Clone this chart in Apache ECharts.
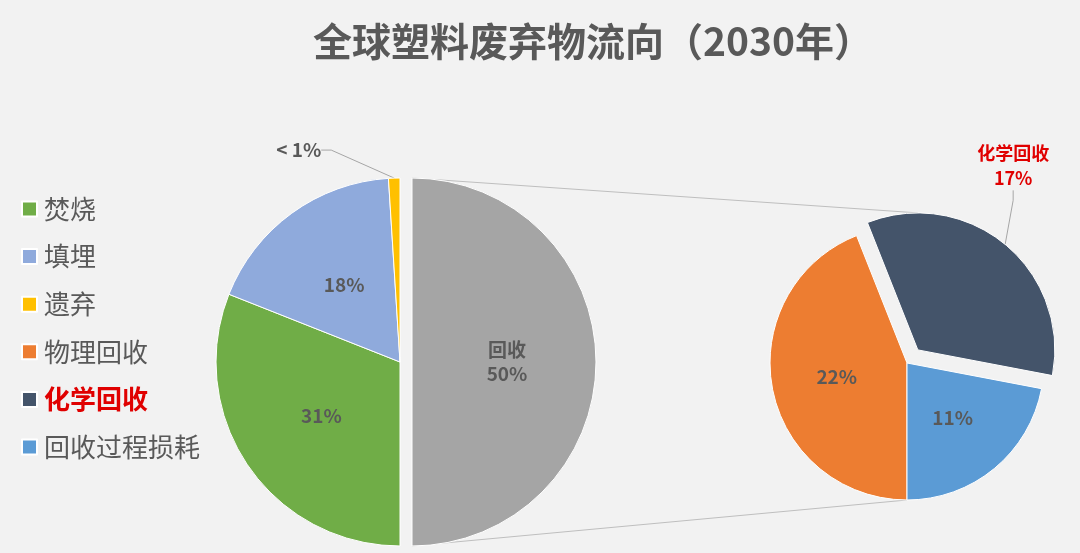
<!DOCTYPE html>
<html lang="zh">
<head>
    <meta charset="UTF-8">
    <title>全球塑料废弃物流向（2030年）</title>
    <style>
        html, body, #echarts {
            margin: 0;
            padding: 0;
            width: 100%;
            height: 100%;
            background: #f2f2f2;
        }
    </style>
</head>
<body>
    <div id="echarts"></div>
    <script src="https://cdn.jsdelivr.net/npm/echarts@6/dist/echarts.min.js"></script>
    <script>
        // 主饼图（总量）
        var mainNames = ['回收', '焚烧', '填埋', '遗弃'];
        var mainValues = [50, 31, 18, 1];
        var mainLabels = ['回收\n50%', '31%', '18%', '< 1%'];
        var mainColors = ['#a5a5a5', '#70ad47', '#8faadc', '#ffc000'];

        // 子饼图（回收拆分）
        var subNames = ['物理回收', '化学回收', '回收过程损耗'];
        var subValues = [22, 17, 11];
        var subLabels = ['22%', '化学回收\n17%', '11%'];
        var subColors = ['#ed7d31', '#44546a', '#5b9bd5'];

        var legendNames = ['焚烧', '填埋', '遗弃', '物理回收', '化学回收', '回收过程损耗'];

        // 布局
        var FONT = '"Noto Sans CJK SC", "Noto Sans", sans-serif';
        var mainCenter = [400, 362], mainR = 184, mainOffset = 12, mainStart = 90;
        var subCenter = [907, 363], subR = 137, subOffset = 17, subStart = -90;
        var HIGHLIGHT = '化学回收';

        function sum(arr) {
            var s = 0;
            for (var i = 0; i < arr.length; i++) s += arr[i];
            return s;
        }

        // 某一扇区的中线角度（度，逆时针为正，顺时针排布）
        function midAngle(values, start, idx) {
            var total = sum(values);
            var a = start;
            for (var i = 0; i < idx; i++) a -= values[i] / total * 360;
            return a - values[idx] / total * 180;
        }

        function offsetOf(values, start, idx, dist) {
            var rad = midAngle(values, start, idx) * Math.PI / 180;
            return [Math.cos(rad) * dist, -Math.sin(rad) * dist];
        }

        var hiIdx = subNames.indexOf(HIGHLIGHT);
        var mo = offsetOf(mainValues, mainStart, 0, mainOffset);
        var so = offsetOf(subValues, subStart, hiIdx, subOffset);

        // 连接线：主饼"回收"扇区上下端 -> 子饼上下端
        var linkTop = [mainCenter[0] + mo[0], mainCenter[1] + mo[1] - mainR,
                       subCenter[0] + so[0], subCenter[1] + so[1] - subR];
        var linkBottom = [mainCenter[0] + mo[0], mainCenter[1] + mo[1] + mainR,
                          subCenter[0], subCenter[1] + subR];

        var labelBase = {
            fontFamily: FONT,
            fontSize: 19,
            fontWeight: 'bold',
            color: '#595959',
            lineHeight: 24
        };

        var mainData = [];
        for (var i = 0; i < mainNames.length; i++) {
            var item = {
                name: mainNames[i],
                value: mainValues[i],
                itemStyle: { color: mainColors[i] },
                label: { formatter: mainLabels[i] }
            };
            if (i === 0) item.selected = true;
            if (mainNames[i] === '遗弃') {
                item.label.position = 'outside';
                item.labelLine = { show: true, length: 20, length2: 10 };
            }
            mainData.push(item);
        }

        var subData = [];
        // 透明的辅助饼：只负责"化学回收"的外部标签（半径含分离距离，引线起点落在分离后的弧上）
        var ghostData = [];
        for (var j = 0; j < subNames.length; j++) {
            var isHi = subNames[j] === HIGHLIGHT;
            subData.push({
                name: subNames[j],
                value: subValues[j],
                selected: isHi,
                itemStyle: { color: subColors[j] },
                label: { show: !isHi, formatter: subLabels[j] }
            });
            ghostData.push({
                name: subNames[j],
                value: subValues[j],
                label: { show: isHi, formatter: subLabels[j] },
                labelLine: { show: isHi }
            });
        }

        var legendData = legendNames.map(function (n) {
            if (n === HIGHLIGHT) {
                return { name: n, textStyle: { color: '#e00000', fontWeight: 'bold' } };
            }
            return { name: n };
        });

        var myChart = echarts.init(document.getElementById('echarts'));

        myChart.setOption({
            backgroundColor: '#f2f2f2',
            animation: false,
            title: {
                text: '全球塑料废弃物流向（2030年）',
                left: 588,
                textAlign: 'center',
                top: 17,
                textStyle: {
                    fontFamily: FONT,
                    fontSize: 39,
                    fontWeight: 'bold',
                    color: '#595959'
                }
            },
            legend: {
                orient: 'vertical',
                left: 16,
                top: 191,
                icon: 'rect',
                itemWidth: 15,
                itemHeight: 15,
                itemGap: 21.6,
                selectedMode: false,
                textStyle: {
                    fontFamily: FONT,
                    fontSize: 26,
                    color: '#595959',
                    lineHeight: 26,
                    padding: [0, 0, 0, 2]
                },
                data: legendData
            },
            graphic: [
                {
                    type: 'line', z: 0,
                    shape: { x1: linkTop[0], y1: linkTop[1], x2: linkTop[2], y2: linkTop[3] },
                    style: { stroke: '#bfbfbf', lineWidth: 1 }
                },
                {
                    type: 'line', z: 0,
                    shape: { x1: linkBottom[0], y1: linkBottom[1], x2: linkBottom[2], y2: linkBottom[3] },
                    style: { stroke: '#bfbfbf', lineWidth: 1 }
                }
            ],
            series: [
                {
                    type: 'pie',
                    center: mainCenter,
                    radius: mainR,
                    startAngle: mainStart,
                    clockwise: true,
                    selectedMode: 'single',
                    selectedOffset: mainOffset,
                    avoidLabelOverlap: false,
                    itemStyle: { borderColor: '#ffffff', borderWidth: 1 },
                    label: Object.assign({ position: 'inside' }, labelBase),
                    labelLine: { lineStyle: { color: '#a6a6a6', width: 1 } },
                    emphasis: { disabled: true },
                    labelLayout: function (params) {
                        if (params.dataIndex !== 3 || !params.labelLinePoints) return;
                        var p = params.labelLinePoints[0];
                        return { x: p[0] - 73, y: p[1] - 28, align: 'right', verticalAlign: 'middle' };
                    },
                    data: mainData
                },
                {
                    type: 'pie',
                    center: subCenter,
                    radius: subR,
                    startAngle: subStart,
                    clockwise: true,
                    selectedMode: 'single',
                    selectedOffset: subOffset,
                    avoidLabelOverlap: false,
                    itemStyle: { borderColor: '#ffffff', borderWidth: 1 },
                    label: Object.assign({ position: 'inside' }, labelBase),
                    labelLine: { show: false },
                    emphasis: { disabled: true },
                    data: subData
                },
                {
                    type: 'pie',
                    silent: true,
                    center: subCenter,
                    radius: subR + subOffset,
                    startAngle: subStart,
                    clockwise: true,
                    avoidLabelOverlap: false,
                    itemStyle: { color: 'rgba(0,0,0,0)', borderWidth: 0 },
                    label: Object.assign({}, labelBase, {
                        position: 'outside',
                        color: '#e00000',
                        fontSize: 18,
                        lineHeight: 25,
                        align: 'center'
                    }),
                    labelLine: { length: 10, length2: 10, lineStyle: { color: '#a6a6a6', width: 1 } },
                    emphasis: { disabled: true },
                    labelLayout: function (params) {
                        if (params.dataIndex !== hiIdx || !params.labelLinePoints) return;
                        var p = params.labelLinePoints[0];
                        return { x: p[0] + 8, y: p[1] - 54, align: 'center', verticalAlign: 'bottom' };
                    },
                    data: ghostData
                }
            ]
        });

        window.addEventListener('resize', function () {
            myChart.resize();
        });
    </script>
</body>
</html>
